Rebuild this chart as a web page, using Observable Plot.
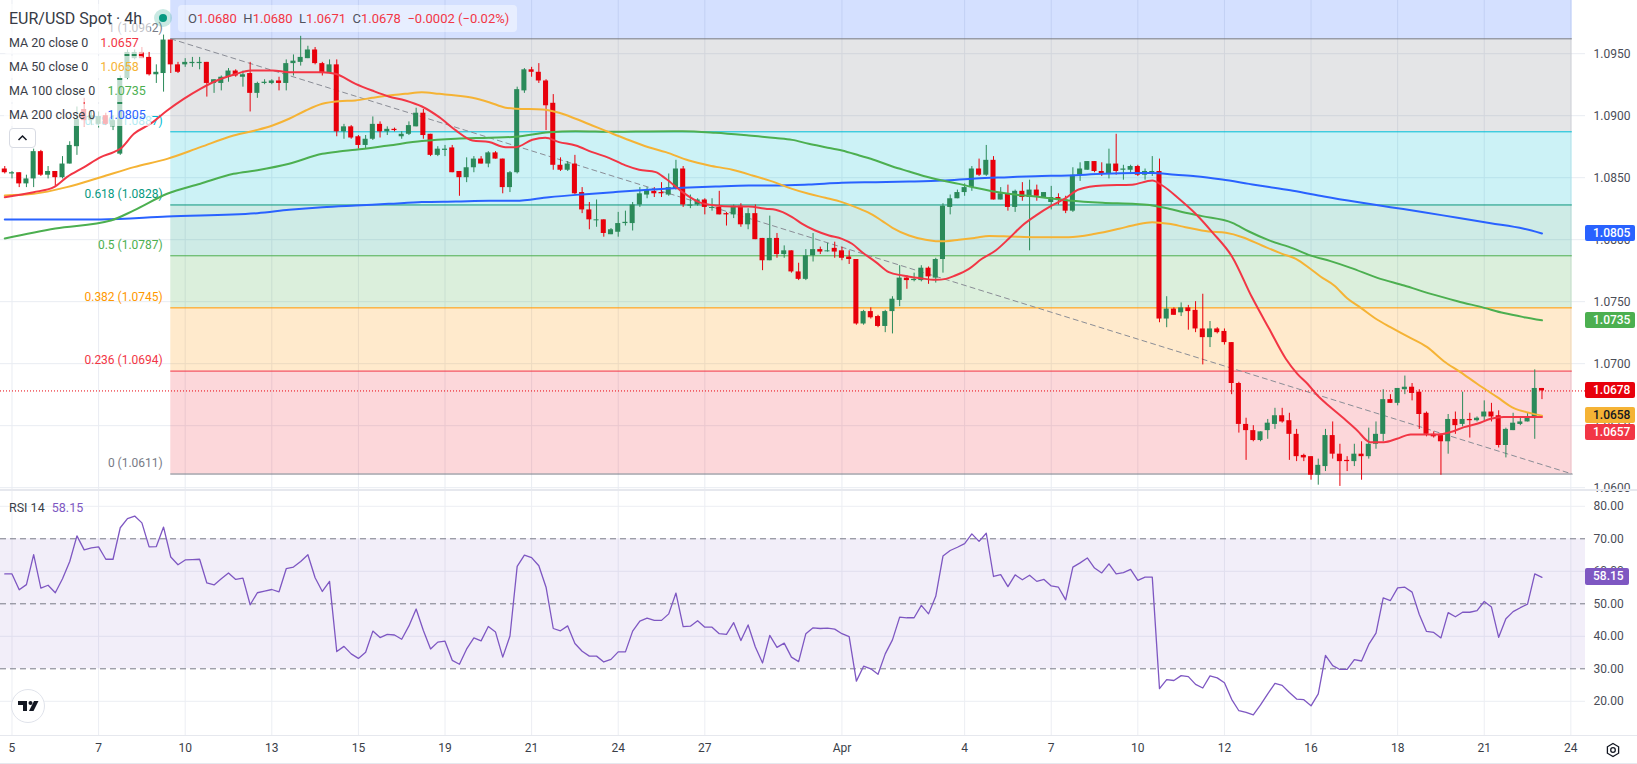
<!DOCTYPE html>
<html><head><meta charset="utf-8">
<script src="https://cdn.jsdelivr.net/npm/d3@7"></script>
<script src="https://cdn.jsdelivr.net/npm/@observablehq/plot@0.6"></script>
<style>
body{margin:0;background:#fff;font-family:Roboto,"Liberation Sans",sans-serif;}
#wrap{position:relative;width:1637px;height:764px;overflow:hidden;background:#fff;}
#price,#rsi{position:absolute;left:0;}
#price{top:0}#rsi{top:491px}
.row{position:absolute;left:4px;height:22px;line-height:22px;font-size:12.5px;color:#3a3e48;background:rgba(255,255,255,0.7);padding:0 5px;border-radius:3px;white-space:nowrap;}
.row span.v{margin-left:12px;}
.tag{position:absolute;left:1585px;height:16px;line-height:16px;font-size:12px;font-weight:500;padding:0 5px 0 8px;border-radius:2px;white-space:nowrap;}
.sep{position:absolute;left:0;width:1637px;background:#e6e8ee;}
</style></head><body><div id="wrap"><div id="price"></div><div id="rsi"></div></div>
<script>
// ---------------- data ----------------
const openP = [
1.0857,1.0853,1.0854,1.0845,1.0849,1.0871,1.0852,1.0855,1.0850,1.0861,
1.0875,1.0905,1.0896,1.0893,1.0900,1.0891,1.0869,1.0930,1.0946,1.0951,
1.0947,1.0933,1.0934,1.0961,1.0941,1.0941,1.0942,1.0942,1.0943,1.0926,
1.0926,1.0931,1.0936,1.0931,1.0934,1.0918,1.0926,1.0926,1.0928,1.0926,
1.0942,1.0943,1.0946,1.0953,1.0942,1.0934,1.0941,1.0887,1.0891,1.0883,
1.0876,1.0881,1.0893,1.0887,1.0889,1.0883,1.0885,1.0891,1.0902,1.0885,
1.0868,1.0872,1.0874,1.0855,1.0850,1.0858,1.0865,1.0861,1.0870,1.0865,
1.0842,1.0854,1.0920,1.0937,1.0935,1.0928,1.0910,1.0860,1.0856,1.0861,
1.0838,1.0824,1.0816,1.0816,1.0804,1.0806,1.0813,1.0813,1.0828,1.0836,
1.0839,1.0838,1.0836,1.0841,1.0857,1.0827,1.0828,1.0832,1.0826,1.0826,
1.0821,1.0820,1.0827,1.0812,1.0821,1.0801,1.0783,1.0801,1.0788,1.0791,
1.0774,1.0768,1.0787,1.0792,1.0791,1.0793,1.0791,1.0786,1.0784,1.0732,
1.0742,1.0738,1.0730,1.0742,1.0751,1.0769,1.0767,1.0767,1.0777,1.0769,
1.0784,1.0826,1.0833,1.0838,1.0842,1.0857,1.0852,1.0864,1.0832,1.0837,
1.0826,1.0839,1.0834,1.0840,1.0834,1.0830,1.0834,1.0832,1.0823,1.0852,
1.0856,1.0863,1.0855,1.0853,1.0861,1.0856,1.0856,1.0859,1.0852,1.0854,
1.0855,1.0736,1.0744,1.0741,1.0745,1.0743,1.0728,1.0721,1.0728,1.0726,
1.0717,1.0684,1.0651,1.0646,1.0638,1.0646,1.0651,1.0658,1.0654,1.0643,
1.0626,1.0625,1.0610,1.0617,1.0642,1.0627,1.0622,1.0621,1.0627,1.0625,
1.0635,1.0643,1.0671,1.0668,1.0679,1.0681,1.0677,1.0660,1.0643,1.0642,
1.0637,1.0655,1.0651,1.0655,1.0654,1.0657,1.0661,1.0658,1.0634,1.0646,
1.0651,1.0653,1.0656,1.0680];
const highP = [
1.0859,1.0855,1.0854,1.0852,1.0873,1.0872,1.0859,1.0855,1.0867,1.0879,
1.0907,1.0914,1.0904,1.0903,1.0902,1.0900,1.0932,1.0953,1.0953,1.0955,
1.0951,1.0941,1.0965,1.0961,1.0943,1.0946,1.0947,1.0947,1.0943,1.0929,
1.0932,1.0938,1.0937,1.0936,1.0943,1.0927,1.0929,1.0929,1.0931,1.0945,
1.0949,1.0964,1.0956,1.0955,1.0943,1.0945,1.0945,1.0893,1.0892,1.0884,
1.0884,1.0899,1.0895,1.0891,1.0890,1.0887,1.0895,1.0906,1.0905,1.0885,
1.0875,1.0876,1.0876,1.0855,1.0866,1.0867,1.0867,1.0871,1.0871,1.0865,
1.0855,1.0923,1.0938,1.0939,1.0942,1.0929,1.0917,1.0866,1.0863,1.0868,
1.0842,1.0830,1.0832,1.0816,1.0809,1.0822,1.0823,1.0830,1.0842,1.0842,
1.0842,1.0846,1.0853,1.0864,1.0859,1.0836,1.0833,1.0833,1.0833,1.0839,
1.0822,1.0828,1.0829,1.0825,1.0828,1.0801,1.0819,1.0805,1.0795,1.0791,
1.0781,1.0792,1.0805,1.0794,1.0797,1.0798,1.0794,1.0791,1.0784,1.0743,
1.0745,1.0739,1.0743,1.0754,1.0779,1.0771,1.0773,1.0779,1.0778,1.0785,
1.0829,1.0836,1.0840,1.0845,1.0859,1.0865,1.0876,1.0867,1.0842,1.0844,
1.0840,1.0846,1.0848,1.0844,1.0838,1.0843,1.0837,1.0835,1.0858,1.0862,
1.0863,1.0863,1.0862,1.0873,1.0885,1.0860,1.0860,1.0860,1.0857,1.0867,
1.0865,1.0754,1.0745,1.0749,1.0747,1.0750,1.0756,1.0734,1.0729,1.0728,
1.0717,1.0685,1.0656,1.0650,1.0645,1.0655,1.0664,1.0664,1.0660,1.0647,
1.0627,1.0625,1.0623,1.0647,1.0653,1.0635,1.0625,1.0635,1.0637,1.0648,
1.0653,1.0679,1.0675,1.0680,1.0690,1.0684,1.0679,1.0661,1.0645,1.0643,
1.0659,1.0661,1.0677,1.0660,1.0657,1.0670,1.0668,1.0662,1.0648,1.0660,
1.0657,1.0660,1.0695,1.0680];
const lowP = [
1.0853,1.0849,1.0842,1.0842,1.0842,1.0851,1.0849,1.0843,1.0849,1.0861,
1.0868,1.0891,1.0892,1.0890,1.0892,1.0888,1.0868,1.0929,1.0945,1.0946,
1.0932,1.0926,1.0919,1.0934,1.0934,1.0939,1.0939,1.0937,1.0915,1.0918,
1.0920,1.0927,1.0931,1.0923,1.0903,1.0914,1.0925,1.0925,1.0920,1.0920,
1.0932,1.0940,1.0946,1.0941,1.0932,1.0934,1.0883,1.0881,1.0881,1.0873,
1.0873,1.0880,1.0882,1.0884,1.0887,1.0881,1.0884,1.0891,1.0881,1.0867,
1.0867,1.0867,1.0854,1.0835,1.0846,1.0854,1.0861,1.0858,1.0865,1.0837,
1.0838,1.0853,1.0918,1.0931,1.0926,1.0888,1.0856,1.0855,1.0855,1.0836,
1.0821,1.0808,1.0810,1.0802,1.0804,1.0802,1.0811,1.0807,1.0826,1.0833,
1.0834,1.0834,1.0835,1.0840,1.0826,1.0825,1.0827,1.0820,1.0823,1.0820,
1.0811,1.0817,1.0810,1.0808,1.0800,1.0775,1.0783,1.0785,1.0785,1.0773,
1.0767,1.0767,1.0782,1.0788,1.0790,1.0785,1.0783,1.0780,1.0731,1.0731,
1.0736,1.0729,1.0725,1.0724,1.0746,1.0760,1.0766,1.0766,1.0764,1.0765,
1.0773,1.0820,1.0833,1.0835,1.0839,1.0851,1.0851,1.0832,1.0832,1.0823,
1.0822,1.0831,1.0791,1.0831,1.0834,1.0824,1.0828,1.0821,1.0822,1.0847,
1.0856,1.0854,1.0851,1.0849,1.0852,1.0848,1.0854,1.0851,1.0848,1.0851,
1.0733,1.0729,1.0739,1.0738,1.0727,1.0725,1.0699,1.0713,1.0724,1.0715,
1.0675,1.0644,1.0622,1.0637,1.0637,1.0639,1.0647,1.0652,1.0622,1.0621,
1.0621,1.0606,1.0602,1.0613,1.0623,1.0601,1.0613,1.0617,1.0606,1.0623,
1.0631,1.0637,1.0668,1.0666,1.0675,1.0670,1.0647,1.0641,1.0640,1.0610,
1.0627,1.0643,1.0649,1.0640,1.0653,1.0653,1.0653,1.0632,1.0624,1.0646,
1.0650,1.0653,1.0639,1.0671];
const closeP = [
1.0854,1.0854,1.0845,1.0849,1.0871,1.0852,1.0855,1.0850,1.0861,1.0876,
1.0897,1.0896,1.0900,1.0899,1.0893,1.0896,1.0930,1.0951,1.0951,1.0946,
1.0933,1.0935,1.0961,1.0941,1.0935,1.0943,1.0943,1.0943,1.0926,1.0929,
1.0931,1.0936,1.0932,1.0933,1.0918,1.0926,1.0927,1.0928,1.0926,1.0942,
1.0944,1.0947,1.0953,1.0942,1.0934,1.0941,1.0887,1.0891,1.0882,1.0876,
1.0881,1.0893,1.0887,1.0889,1.0888,1.0885,1.0892,1.0902,1.0884,1.0868,
1.0873,1.0873,1.0854,1.0850,1.0858,1.0865,1.0861,1.0870,1.0865,1.0842,
1.0854,1.0921,1.0937,1.0935,1.0928,1.0908,1.0860,1.0856,1.0861,1.0837,
1.0824,1.0816,1.0816,1.0805,1.0808,1.0813,1.0814,1.0828,1.0837,1.0840,
1.0837,1.0837,1.0842,1.0857,1.0828,1.0828,1.0832,1.0826,1.0826,1.0820,
1.0820,1.0827,1.0812,1.0821,1.0800,1.0783,1.0801,1.0788,1.0791,1.0774,
1.0768,1.0787,1.0792,1.0790,1.0791,1.0790,1.0785,1.0784,1.0732,1.0742,
1.0737,1.0730,1.0742,1.0752,1.0769,1.0767,1.0768,1.0777,1.0770,1.0784,
1.0827,1.0833,1.0838,1.0842,1.0857,1.0852,1.0864,1.0832,1.0837,1.0826,
1.0839,1.0834,1.0840,1.0835,1.0838,1.0834,1.0832,1.0823,1.0852,1.0857,
1.0863,1.0855,1.0853,1.0861,1.0855,1.0857,1.0859,1.0852,1.0855,1.0855,
1.0736,1.0744,1.0739,1.0745,1.0742,1.0728,1.0721,1.0728,1.0725,1.0717,
1.0684,1.0651,1.0646,1.0638,1.0645,1.0652,1.0658,1.0653,1.0643,1.0625,
1.0624,1.0610,1.0618,1.0642,1.0627,1.0621,1.0621,1.0627,1.0625,1.0635,
1.0643,1.0671,1.0668,1.0680,1.0681,1.0676,1.0659,1.0643,1.0641,1.0637,
1.0655,1.0650,1.0655,1.0654,1.0656,1.0661,1.0657,1.0634,1.0647,1.0652,
1.0653,1.0656,1.0680,1.0678];

// moving averages: [candle index, value]
const ma20 = [[0,1.08343],[4,1.08383],[6.8,1.08424],[8.6,1.08504],[11,1.08585],[13.3,1.08666],[15.1,1.08706],[16,1.08733],[17.9,1.08854],[20.2,1.08935],[22.5,1.09042],[24.8,1.09136],[27.1,1.09217],[29.4,1.09284],[31.7,1.0933],[34.1,1.09365],[37.1,1.09365],[39.4,1.09351],[44,1.09351],[45.8,1.09338],[48.6,1.09257],[50.9,1.09203],[53.2,1.09155],[55.5,1.09123],[57.8,1.09074],[60.2,1.08988],[62.5,1.08881],[64.8,1.088],[67.1,1.08787],[69.4,1.08746],[70.8,1.08746],[73.1,1.08806],[74.9,1.08822],[76.8,1.08787],[79.1,1.0876],[81.4,1.08706],[83.7,1.0866],[86,1.08599],[87.9,1.08564],[90.2,1.08545],[91.6,1.08491],[93.9,1.08384],[96.2,1.08303],[98.5,1.08276],[100.8,1.08268],[103.1,1.08268],[105.4,1.08249],[106.8,1.08241],[109.1,1.08182],[110.5,1.08128],[112.3,1.08074],[114.2,1.08034],[116,1.08007],[117.4,1.07967],[118.8,1.07899],[120.7,1.07819],[122.5,1.07738],[124.4,1.07711],[126.7,1.0769],[129,1.07676],[130.4,1.07684],[131.7,1.07711],[133.6,1.07765],[135.4,1.07846],[137.3,1.07913],[139.1,1.08007],[141,1.08115],[142.8,1.08192],[145.1,1.08276],[147,1.08335],[148.8,1.08405],[152.1,1.08437],[156.2,1.08443],[159,1.08477],[160.4,1.08437],[162.7,1.0833],[165,1.08209],[167.3,1.08061],[170.1,1.07859],[172.8,1.07537],[175.2,1.07281],[177.5,1.0704],[179.1,1.06918],[180.5,1.06838],[181.9,1.06743],[183.7,1.06649],[185.6,1.06555],[187.4,1.06461],[189.2,1.06367],[191.1,1.06367],[192.9,1.06394],[194.8,1.06429],[196.6,1.06429],[198.5,1.06429],[200.3,1.06448],[202.2,1.06488],[204,1.06515],[205.9,1.06555],[207.7,1.06569],[210.5,1.06569],[213,1.0657]];
const ma50 = [[0,1.08357],[4,1.0837],[8.6,1.08424],[13.3,1.08504],[17.9,1.08585],[22.5,1.08652],[27.1,1.08746],[31.7,1.0884],[34.7,1.08881],[37.1,1.08921],[39.4,1.08975],[41.7,1.09042],[44,1.09096],[46.3,1.09117],[48.6,1.09123],[50.9,1.09144],[53.2,1.09163],[55.5,1.09176],[57.8,1.0919],[60.2,1.09176],[62.5,1.09163],[64.8,1.09144],[67.1,1.09109],[69.4,1.09064],[70.8,1.09056],[74.5,1.0905],[76.8,1.09023],[79.1,1.08975],[81.4,1.08921],[83.7,1.08867],[86,1.08814],[89.2,1.08746],[91.6,1.08706],[94.8,1.08639],[97.6,1.08599],[100.8,1.08564],[103.6,1.08518],[106.8,1.0846],[109.1,1.0841],[111.4,1.0837],[113.7,1.08338],[116,1.08303],[118.4,1.0825],[120.2,1.08203],[121.6,1.0815],[123,1.08096],[125.3,1.08034],[127.6,1.07999],[129,1.07988],[130.4,1.07988],[132.2,1.07999],[134.5,1.08015],[136.4,1.08029],[139.1,1.08026],[142.8,1.0802],[147.4,1.0802],[151.1,1.08047],[154.4,1.08088],[156.7,1.0812],[159,1.08141],[161.3,1.08128],[163.6,1.08101],[166.8,1.08066],[169.2,1.08055],[171.5,1.0802],[174.2,1.07953],[177,1.07886],[178.9,1.07846],[180.9,1.07765],[182.3,1.07703],[184.2,1.07631],[186,1.07528],[187.9,1.0745],[190.2,1.07354],[192,1.07295],[194.3,1.07222],[197.1,1.07133],[199.4,1.0702],[201.7,1.06932],[204,1.06838],[206.8,1.0673],[209.1,1.06641],[211.4,1.06601],[213,1.0658]];
const ma100 = [[0,1.0801],[7,1.0809],[14.7,1.08155],[17.9,1.08236],[22.5,1.0837],[27.1,1.08451],[31.7,1.08531],[35,1.0856],[39.4,1.08612],[44,1.08693],[46.3,1.08711],[48.6,1.08725],[53.2,1.0876],[57.8,1.08795],[62.5,1.08814],[67.1,1.08822],[70.8,1.0883],[75.4,1.08867],[79.1,1.08875],[84.6,1.0887],[89.2,1.08873],[93.9,1.08875],[98.5,1.08862],[103.1,1.0884],[106.8,1.0882],[109.1,1.08805],[111.4,1.08773],[113.7,1.08746],[116,1.08719],[118.4,1.08679],[120.7,1.08639],[123,1.0859],[125.3,1.0855],[127.6,1.0851],[129.9,1.08477],[132.2,1.0845],[134.5,1.08418],[136.8,1.08391],[139.1,1.0837],[142.8,1.08348],[147.4,1.08316],[152.1,1.08297],[156.7,1.08287],[159,1.08276],[161.3,1.0825],[163.6,1.08217],[165.9,1.0819],[170.1,1.08136],[172.4,1.08066],[175.2,1.07994],[178.5,1.0793],[180.9,1.07873],[183.7,1.07827],[186.5,1.07773],[190.2,1.07692],[193.9,1.0763],[197.6,1.07563],[201.3,1.07504],[205,1.0745],[207.7,1.07408],[210.5,1.07375],[213,1.0735]];
const ma200 = [[0,1.08163],[13.3,1.08163],[22.5,1.08187],[35,1.08214],[39.4,1.08241],[44,1.08262],[48.6,1.08276],[53.2,1.08289],[57.8,1.08303],[62.5,1.08308],[67.1,1.08314],[70.8,1.08314],[75.4,1.08343],[80,1.08365],[84.6,1.08384],[89.2,1.08402],[93.9,1.08418],[98.5,1.08429],[103.1,1.08437],[106.8,1.08437],[111.4,1.08445],[116,1.08459],[120.7,1.08464],[125.3,1.08469],[129.9,1.08477],[134.5,1.08494],[139.1,1.08504],[142.8,1.08512],[147.4,1.08518],[152.1,1.08531],[156.7,1.08537],[159,1.08537],[162.2,1.08523],[165,1.08512],[168.7,1.08485],[172.4,1.0845],[175.2,1.08424],[178.5,1.08395],[182.8,1.08348],[187.4,1.08303],[192,1.08262],[196.6,1.08222],[201.3,1.08176],[205.9,1.08133],[210.5,1.08088],[213,1.0805]];

const rsi = [
59.2,59.2,54.3,55.9,65.1,54.8,55.7,53.4,57.7,63.0,
70.9,66.6,67.2,67.5,63.7,63.7,73.4,76.2,77.0,74.9,
67.5,67.6,73.6,64.4,62.0,63.5,63.6,63.7,56.4,55.8,
57.7,59.5,57.5,57.9,49.7,53.4,53.9,54.4,53.7,60.8,
61.3,63.0,65.1,58.0,53.8,56.9,35.3,36.9,34.6,33.2,
35.1,41.6,39.6,40.6,40.4,39.1,43.2,48.4,41.8,36.1,
38.2,38.5,32.6,31.4,36.1,39.5,38.6,43.0,41.3,33.6,
40.1,61.5,65.0,64.2,61.7,55.1,42.4,41.7,43.2,37.8,
35.4,33.9,33.9,32.1,32.9,35.2,35.2,41.6,44.7,45.6,
44.9,44.9,46.9,53.3,43.0,43.1,44.8,42.8,42.8,40.8,
40.6,44.2,38.7,43.5,36.7,31.8,40.3,36.6,37.9,33.6,
32.2,40.8,42.6,42.4,42.5,42.2,40.8,39.9,26.2,30.8,
30.0,28.3,34.6,38.9,45.9,45.7,45.7,49.5,46.9,52.3,
64.7,66.4,67.4,68.5,71.5,69.2,71.7,58.4,59.0,55.3,
58.9,57.4,58.8,56.9,57.5,55.5,55.1,51.2,61.3,62.6,
64.1,61.0,59.5,62.3,59.2,59.6,60.6,57.2,58.2,58.2,
23.9,26.7,26.4,27.9,27.6,25.2,24.1,27.8,27.2,25.7,
20.6,17.1,16.6,15.8,18.9,22.3,25.5,24.9,22.7,20.7,
20.5,18.6,22.3,34.1,31.0,29.8,29.8,32.8,32.4,37.5,
41.0,51.8,51.0,54.9,55.1,53.6,46.7,41.5,41.2,39.5,
47.3,46.0,47.4,47.4,47.9,50.7,49.0,39.7,45.4,47.6,
48.8,49.9,59.2,58.15];

// fibonacci retracement (drawn from candle 23 to the end of the drawing)
const fibRatios = [1.618, 1, 0.786, 0.618, 0.5, 0.382, 0.236, 0];
const fibPrices = [1.1179, 1.0962, 1.0887, 1.0828, 1.0787, 1.0745, 1.0694, 1.0611];
const fibColors = ["#2962ff", "#787b86", "#00bcd4", "#089981", "#4caf50", "#ff9800", "#f23645", "#787b86"];
const fibStart = 23, fibEnd = 217.2;

const priceTicks = [1.0600, 1.0650, 1.0700, 1.0750, 1.0800, 1.0850, 1.0900, 1.0950];
const rsiTicks = [80, 70, 60, 50, 40, 30, 20];
const rsiLevels = [70, 50, 30];
const rsiBand = [30, 70];
const tickIdx = [1, 13, 25, 37, 49, 61, 73, 85, 97, 116, 133, 145, 157, 169, 181, 193, 205, 217];
const tickLabels = ["5", "7", "10", "13", "15", "19", "21", "24", "27", "Apr", "4", "7", "10", "12", "16", "18", "21", "24"];

// ---------------- layout ----------------
const W = 1637, PH = 491, RH = 273, MR = 52;
const xDomain = [-0.593, 219.03];
const priceDomain = [1.05969, 1.09929];
const rsiDomain = [9.48, 84.55];
const UP = "#2b8a5a", DOWN = "#e8000b";
const C20 = "#f23645", C50 = "#f5b335", C100 = "#4caf50", C200 = "#2962ff", CRSI = "#7e57c2";
const FONT = "Roboto, 'Liberation Sans', sans-serif";

const candles = d3.range(openP.length).map(i => ({i, o: openP[i], h: highP[i], l: lowP[i], c: closeP[i], col: closeP[i] >= openP[i] ? UP : DOWN}));
const dojis = candles.filter(d => Math.abs(d.o - d.c) < 0.00008);
const levels = fibRatios.map((r, k) => ({r, p: fibPrices[k], c: fibColors[k]}));
const visibleLevels = levels.filter(d => d.p >= priceDomain[0] && d.p <= priceDomain[1]);
const zones = d3.range(levels.length - 1).map(k => ({y1: fibPrices[k], y2: fibPrices[k + 1], fill: fibColors[k]}));
const trend = [[fibStart, fibPrices[1]], [fibEnd, fibPrices[fibPrices.length - 1]]];
const last = candles[candles.length - 1];

const pricePlot = Plot.plot({
  width: W, height: PH, marginTop: 0, marginBottom: 0, marginLeft: 0, marginRight: MR,
  x: {domain: xDomain, axis: null},
  y: {domain: priceDomain, axis: null},
  color: {type: "identity"},
  style: {fontFamily: FONT, fontSize: "12px", background: "transparent", overflow: "visible"},
  marks: [
    Plot.ruleY(priceTicks, {stroke: "#e9ecf2", strokeWidth: 1}),
    Plot.ruleX(tickIdx, {stroke: "#e9ecf2", strokeWidth: 1}),
    Plot.rect(zones, {x1: () => fibStart, x2: () => fibEnd, y1: "y1", y2: "y2", fill: "fill", fillOpacity: 0.2, clip: true}),
    Plot.ruleY(visibleLevels, {y: "p", x1: () => fibStart, x2: () => fibEnd, stroke: "c", strokeWidth: 1}),
    Plot.text(visibleLevels, {x: () => fibStart, y: "p", text: d => `${d.r} (${d.p.toFixed(4)})`, fill: "c", textAnchor: "end", dx: -8, dy: -11, fontSize: 12}),
    Plot.line(trend, {x: d => d[0], y: d => d[1], stroke: "#8a8d96", strokeWidth: 1, strokeDasharray: "5,4"}),
    Plot.ruleY([last.c], {stroke: DOWN, strokeWidth: 1, strokeDasharray: "1,2"}),
    Plot.ruleX(candles, {x: "i", y1: "l", y2: "h", stroke: "col", strokeWidth: 1}),
    Plot.rect(candles, {x1: d => d.i - 0.35, x2: d => d.i + 0.35, y1: "o", y2: "c", fill: "col"}),
    Plot.ruleY(dojis, {y: "c", x1: d => d.i - 0.35, x2: d => d.i + 0.35, stroke: "col", strokeWidth: 1}),
    Plot.line(ma200, {x: d => d[0], y: d => d[1], stroke: C200, strokeWidth: 2, curve: "monotone-x"}),
    Plot.line(ma100, {x: d => d[0], y: d => d[1], stroke: C100, strokeWidth: 2, curve: "monotone-x"}),
    Plot.line(ma50, {x: d => d[0], y: d => d[1], stroke: C50, strokeWidth: 2, curve: "monotone-x"}),
    Plot.line(ma20, {x: d => d[0], y: d => d[1], stroke: C20, strokeWidth: 2, curve: "monotone-x"}),
    Plot.text(priceTicks, {x: () => xDomain[1], y: d => d, text: d => d.toFixed(4), textAnchor: "start", dx: 8, fill: "#4a4d57", fontSize: 12})
  ]
});
document.getElementById("price").appendChild(pricePlot);

const rsiPlot = Plot.plot({
  width: W, height: RH, marginTop: 0, marginBottom: RH - 244, marginLeft: 0, marginRight: MR,
  x: {domain: xDomain, axis: null},
  y: {domain: rsiDomain, axis: null},
  style: {fontFamily: FONT, fontSize: "12px", background: "transparent", overflow: "visible"},
  marks: [
    Plot.ruleY(rsiTicks.filter(t => !rsiLevels.includes(t)), {stroke: "#eceef3"}),
    Plot.ruleX(tickIdx, {stroke: "#eceef3"}),
    Plot.rect([rsiBand], {y1: d => d[0], y2: d => d[1], fill: CRSI, fillOpacity: 0.1}),
    Plot.ruleY(rsiLevels, {stroke: "#787b86", strokeWidth: 1, strokeDasharray: "6,4"}),
    Plot.line(rsi, {x: (d, i) => i, y: d => d, stroke: CRSI, strokeWidth: 1.3}),
    Plot.text(rsiTicks, {x: () => xDomain[1], y: d => d, text: d => d.toFixed(2), textAnchor: "start", dx: 8, fill: "#4a4d57", fontSize: 12}),
    Plot.text(tickIdx.map((t, k) => ({t, s: tickLabels[k]})), {x: "t", y: () => rsiDomain[0], dy: 13, text: "s", fill: "#3a3e48", fontSize: 12})
  ]
});
document.getElementById("rsi").appendChild(rsiPlot);

// ---------------- overlays ----------------
const wrap = document.getElementById("wrap");
function el(tag, cls, style, html) {
  const e = document.createElement(tag);
  if (cls) e.className = cls;
  if (style) e.setAttribute("style", style);
  if (html != null) e.innerHTML = html;
  wrap.appendChild(e);
  return e;
}
// pane separators
el("div", "sep", "top:489px;height:2px;");
el("div", "sep", "top:735px;height:1px;");
el("div", "sep", "top:763px;height:1px;");

// price-scale tags, stacked when they overlap
const ys = pricePlot.scale("y");
const lastOf = a => a[a.length - 1][1];
const tags = [
  {v: lastOf(ma200), bg: C200, fg: "#fff"},
  {v: lastOf(ma100), bg: C100, fg: "#fff"},
  {v: last.c, bg: last.col, fg: "#fff"},
  {v: lastOf(ma50), bg: C50, fg: "#131722"},
  {v: lastOf(ma20), bg: C20, fg: "#fff"}
].map(t => ({...t, y: ys.apply(t.v)})).sort((a, b) => a.y - b.y);
let prevY = -1e9;
for (const t of tags) {
  const y = Math.max(t.y, prevY + 17); prevY = y;
  el("div", "tag", `top:${y - 8}px;background:${t.bg};color:${t.fg};`, t.v.toFixed(4));
}
const ry = rsiPlot.scale("y");
const lastRsi = rsi[rsi.length - 1];
el("div", "tag", `top:${491 + ry.apply(lastRsi) - 8.5}px;height:17px;line-height:17px;background:${CRSI};color:#fff;`, lastRsi.toFixed(2));

// legend
el("div", null, "position:absolute;left:0;top:4px;width:150px;height:28px;background:rgba(255,255,255,0.55);");
el("div", null, `position:absolute;left:9px;top:8px;font-size:16px;color:#363a45;line-height:21px;white-space:nowrap;`, "EUR/USD Spot · 4h");
el("div", null, "position:absolute;left:154px;top:9px;width:18px;height:18px;border-radius:50%;background:rgba(8,153,129,0.22);");
el("div", null, "position:absolute;left:159px;top:14px;width:8px;height:8px;border-radius:50%;background:#089981;");
const prevClose = closeP[closeP.length - 2];
const chg = last.c - prevClose, pct = chg / prevClose * 100;
const sgn = v => v < 0 ? "\u2212" : "+";
const lc = last.col === DOWN ? "#f23645" : "#089981";
el("div", null, `position:absolute;left:178px;top:5px;height:27px;line-height:27px;padding:0 8px 0 10px;font-size:13px;color:#50535e;background:rgba(255,255,255,0.45);border-radius:4px;white-space:nowrap;`,
  `O<span style="color:${lc}">${last.o.toFixed(4)}</span>&nbsp; H<span style="color:${lc}">${last.h.toFixed(4)}</span>&nbsp; L<span style="color:${lc}">${last.l.toFixed(4)}</span>&nbsp; C<span style="color:${lc}">${last.c.toFixed(4)}</span>&nbsp; <span style="color:${lc}">${sgn(chg)}${Math.abs(chg).toFixed(4)} (${sgn(pct)}${Math.abs(pct).toFixed(2)}%)</span>`);
const maRows = [["MA 20 close 0", lastOf(ma20), C20], ["MA 50 close 0", lastOf(ma50), C50], ["MA 100 close 0", lastOf(ma100), C100], ["MA 200 close 0", lastOf(ma200), C200]];
maRows.forEach((r, k) => {
  el("div", "row", `top:${32 + k * 24}px;`, `${r[0]}<span class="v" style="color:${r[2]}">${r[1].toFixed(4)}</span>`);
});
el("div", null, "position:absolute;left:9px;top:128px;width:27px;height:20px;border:1px solid #d8dbe3;border-radius:4px;background:#fff;box-sizing:border-box;",
  `<svg width="25" height="18"><polyline points="8.5,11 12.5,7 16.5,11" fill="none" stroke="#131722" stroke-width="1.5"/></svg>`);
el("div", null, `position:absolute;left:9px;top:498px;font-size:12.5px;line-height:20px;color:#3a3e48;white-space:nowrap;`,
  `RSI 14 <span style="color:${CRSI};margin-left:4px">${lastRsi.toFixed(2)}</span>`);
// TradingView logo
el("div", null, "position:absolute;left:11px;top:689px;width:34px;height:34px;border-radius:50%;background:#fff;border:1px solid #e0e3eb;box-sizing:border-box;",
  `<svg width="32" height="32" viewBox="0 0 32 32"><path d="M6 11h9v10h-4v-6H6z" fill="#131722"/><circle cx="18.5" cy="13" r="2" fill="#131722"/><path d="M22 11h4.5l-5 10h-4.5z" fill="#131722"/></svg>`);
// settings icon
el("div", null, "position:absolute;left:1604px;top:741px;width:18px;height:18px;",
  `<svg width="18" height="18" viewBox="0 0 18 18"><polygon points="9,2.5 14.6,5.75 14.6,12.25 9,15.5 3.4,12.25 3.4,5.75" fill="none" stroke="#131722" stroke-width="1.3"/><circle cx="9" cy="9" r="2.3" fill="none" stroke="#131722" stroke-width="1.3"/></svg>`);
</script></body></html>
